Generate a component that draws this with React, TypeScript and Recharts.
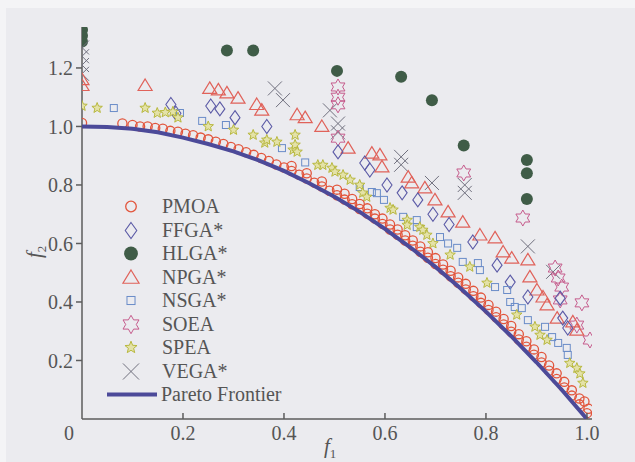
import { ScatterChart, Scatter, XAxis, YAxis } from 'recharts';

// f1 / f2 pairs
const paretoFrontier = [
  [0, 1.0], [0.05, 0.998], [0.1, 0.992], [0.15, 0.98], [0.2, 0.962], [0.25, 0.94], [0.3, 0.915],
  [0.35, 0.884], [0.4, 0.848], [0.45, 0.806], [0.5, 0.76], [0.55, 0.708], [0.6, 0.65],
  [0.65, 0.587], [0.7, 0.52], [0.75, 0.446], [0.8, 0.367], [0.85, 0.283], [0.9, 0.194],
  [0.95, 0.1], [1.0, 0.0],
];

const pmoa = [
  [0, 1.012], [0.08, 1.01], [0.1, 1.005], [0.115, 1.0], [0.13, 1.0], [0.145, 0.995], [0.16, 0.992],
  [0.175, 0.985], [0.19, 0.982], [0.205, 0.975], [0.22, 0.97], [0.235, 0.962], [0.25, 0.956],
  [0.265, 0.948], [0.28, 0.94], [0.295, 0.93], [0.31, 0.922], [0.325, 0.912], [0.34, 0.903],
  [0.355, 0.892], [0.37, 0.882], [0.385, 0.87], [0.4, 0.86], [0.415, 0.848], [0.43, 0.835],
  [0.445, 0.822], [0.46, 0.808], [0.475, 0.795], [0.49, 0.78], [0.505, 0.765], [0.52, 0.75],
  [0.535, 0.734], [0.55, 0.718], [0.565, 0.702], [0.58, 0.685], [0.595, 0.667], [0.61, 0.648],
  [0.625, 0.63], [0.64, 0.61], [0.655, 0.592], [0.67, 0.572], [0.685, 0.551], [0.7, 0.53],
  [0.715, 0.51], [0.73, 0.488], [0.745, 0.466], [0.76, 0.443], [0.775, 0.42], [0.79, 0.397],
  [0.805, 0.373], [0.82, 0.348], [0.835, 0.323], [0.85, 0.298], [0.865, 0.272], [0.88, 0.247],
  [0.895, 0.22], [0.91, 0.193], [0.925, 0.165], [0.94, 0.137], [0.955, 0.108], [0.97, 0.08],
  [0.985, 0.05], [1.0, 0.02], [1.003, 0.035],
  [0.415, 0.865], [0.445, 0.84], [0.475, 0.812], [0.505, 0.784], [0.535, 0.752], [0.565, 0.72],
  [0.595, 0.685], [0.625, 0.648], [0.655, 0.61], [0.685, 0.57], [0.715, 0.528], [0.745, 0.484],
  [0.775, 0.438], [0.805, 0.39], [0.835, 0.342], [0.865, 0.29], [0.895, 0.238], [0.925, 0.183],
  [0.955, 0.127], [0.985, 0.07],
  [0.52, 0.77], [0.55, 0.735], [0.58, 0.7], [0.61, 0.665], [0.64, 0.628], [0.67, 0.59],
  [0.7, 0.55], [0.73, 0.507], [0.76, 0.462], [0.79, 0.415], [0.82, 0.367], [0.85, 0.318],
  [0.88, 0.266], [0.91, 0.212], [0.94, 0.156], [0.97, 0.098], [0.995, 0.06],
];

const ffga = [
  [0.176, 1.075], [0.186, 1.045], [0.255, 1.07], [0.273, 1.06], [0.303, 1.03], [0.366, 1.0],
  [0.507, 0.913], [0.56, 0.875], [0.57, 0.851], [0.604, 0.8], [0.634, 0.773], [0.665, 0.749],
  [0.695, 0.7], [0.727, 0.665], [0.774, 0.605], [0.822, 0.526], [0.848, 0.468], [0.883, 0.417],
  [0.947, 0.413], [0.952, 0.345], [0.962, 0.311],
];

const hlga = [
  [0, 1.33], [0, 1.31], [0, 1.29], [0.287, 1.26], [0.339, 1.26], [0.505, 1.19], [0.632, 1.17],
  [0.693, 1.09], [0.756, 0.935], [0.881, 0.885], [0.881, 0.84], [0.881, 0.752],
];

const npga = [
  [0, 1.16], [0, 1.14], [0.125, 1.14], [0.253, 1.13], [0.27, 1.125], [0.287, 1.115], [0.309, 1.097],
  [0.346, 1.075], [0.356, 1.056], [0.426, 1.04], [0.442, 1.03], [0.475, 1.0], [0.527, 0.926],
  [0.574, 0.909], [0.59, 0.903], [0.594, 0.862], [0.646, 0.827], [0.653, 0.807], [0.679, 0.79],
  [0.699, 0.749], [0.725, 0.708], [0.754, 0.673], [0.788, 0.629], [0.818, 0.619], [0.834, 0.571],
  [0.851, 0.55], [0.883, 0.544], [0.887, 0.486], [0.901, 0.441], [0.913, 0.417], [0.921, 0.39],
  [0.941, 0.345], [0.972, 0.332], [0.98, 0.304],
];

const nsga = [
  [0.063, 1.063], [0.194, 1.046], [0.238, 1.019], [0.285, 1.005], [0.396, 0.926], [0.442, 0.877],
  [0.55, 0.793], [0.574, 0.776], [0.584, 0.772], [0.598, 0.749], [0.636, 0.691], [0.663, 0.68],
  [0.663, 0.656], [0.709, 0.622], [0.725, 0.6], [0.743, 0.585], [0.754, 0.537], [0.784, 0.533],
  [0.788, 0.509], [0.818, 0.451], [0.842, 0.441], [0.848, 0.4], [0.857, 0.383], [0.871, 0.379],
  [0.883, 0.338], [0.917, 0.315], [0.931, 0.28], [0.943, 0.26], [0.96, 0.243], [0.962, 0.219],
];

const soea = [
  [0.507, 1.135], [0.507, 1.1], [0.507, 1.074], [0.507, 0.96], [0.756, 0.841], [0.873, 0.687],
  [0.937, 0.516], [0.943, 0.482], [0.95, 0.451], [0.947, 0.407], [0.99, 0.397], [0.98, 0.321],
  [1.006, 0.27],
];

const spea = [
  [0, 1.07], [0.03, 1.063], [0.125, 1.063], [0.149, 1.046], [0.165, 1.048], [0.18, 1.05],
  [0.19, 1.03], [0.25, 1.0], [0.3, 0.988], [0.339, 0.971], [0.362, 0.944], [0.366, 0.954],
  [0.386, 0.947], [0.418, 0.92], [0.422, 0.937], [0.422, 0.971], [0.426, 0.913], [0.467, 0.868],
  [0.477, 0.868], [0.495, 0.858], [0.501, 0.845], [0.517, 0.834], [0.531, 0.817], [0.55, 0.8],
  [0.556, 0.773], [0.564, 0.759], [0.61, 0.721], [0.616, 0.715], [0.644, 0.68], [0.644, 0.663],
  [0.669, 0.656], [0.675, 0.646], [0.683, 0.629], [0.695, 0.6], [0.729, 0.561], [0.768, 0.52],
  [0.802, 0.465], [0.861, 0.356], [0.897, 0.315], [0.907, 0.287], [0.921, 0.27], [0.966, 0.191],
  [0.98, 0.174], [0.986, 0.155], [0.992, 0.123],
];

const vega = [
  [0, 1.27], [0, 1.24], [0, 1.21], [0, 1.18], [0.382, 1.13], [0.398, 1.09], [0.491, 1.055],
  [0.507, 1.01], [0.507, 0.98], [0.632, 0.896], [0.632, 0.869], [0.693, 0.807], [0.758, 0.8],
  [0.758, 0.773], [0.883, 0.59], [0.933, 0.503],
];

const xTicks = [0, 0.2, 0.4, 0.6, 0.8, 1.0];
const yTicks = [0.2, 0.4, 0.6, 0.8, 1.0, 1.2];

const legendNames = ['PMOA', 'FFGA*', 'HLGA*', 'NPGA*', 'NSGA*', 'SOEA', 'SPEA', 'VEGA*', 'Pareto Frontier'];

const colors: Record<string, string> = {
  PMOA: '#e2553c',
  'FFGA*': '#5b5aa6',
  'HLGA*': '#3f5c47',
  'NPGA*': '#e0625a',
  'NSGA*': '#6a8cc8',
  SOEA: '#c65b8c',
  SPEA: '#b8b83e',
  'VEGA*': '#70707e',
  'Pareto Frontier': '#4c4a99',
};

const FONT = '"Liberation Serif", "Times New Roman", serif';
const TEXT = '#555';
const AXIS = '#5c5c5c';

const toPts = (arr: number[][]) => arr.map(([x, y]) => ({ x, y }));

const starPoints = (cx: number, cy: number, n: number, R: number, r: number) => {
  const pts: string[] = [];
  for (let k = 0; k < n * 2; k++) {
    const a = ((-90 + (180 / n) * k) * Math.PI) / 180;
    const rad = k % 2 === 0 ? R : r;
    pts.push(`${(cx + rad * Math.cos(a)).toFixed(2)},${(cy + rad * Math.sin(a)).toFixed(2)}`);
  }
  return pts.join(' ');
};

const marker = (name: string, cx: number, cy: number, s = 1) => {
  const c = colors[name];
  switch (name) {
    case 'PMOA':
      return <circle cx={cx} cy={cy} r={4.6 * s} fill="none" stroke={c} strokeWidth={1.3} />;
    case 'FFGA*':
      return (
        <polygon
          points={`${cx},${cy - 7 * s} ${cx + 5 * s},${cy} ${cx},${cy + 7 * s} ${cx - 5 * s},${cy}`}
          fill="none" stroke={c} strokeWidth={1.1}
        />
      );
    case 'HLGA*':
      return <circle cx={cx} cy={cy} r={6 * s} fill={c} />;
    case 'NPGA*':
      return (
        <polygon
          points={`${cx},${cy - 6.5 * s} ${cx + 7 * s},${cy + 5 * s} ${cx - 7 * s},${cy + 5 * s}`}
          fill="none" stroke={c} strokeWidth={1.2}
        />
      );
    case 'NSGA*':
      return <rect x={cx - 3.5 * s} y={cy - 3.5 * s} width={7 * s} height={7 * s} fill="none" stroke={c} strokeWidth={1} />;
    case 'SOEA':
      return <polygon points={starPoints(cx, cy, 6, 8 * s, 4.6 * s)} fill="none" stroke={c} strokeWidth={1} />;
    case 'SPEA':
      return <polygon points={starPoints(cx, cy, 5, 5.5 * s, 2.4 * s)} fill="#e4e2a8" stroke={c} strokeWidth={1} />;
    case 'VEGA*':
      return (
        <g stroke={c} strokeWidth={1}>
          <line x1={cx - 7 * s} y1={cy - 7 * s} x2={cx + 7 * s} y2={cy + 7 * s} />
          <line x1={cx - 7 * s} y1={cy + 7 * s} x2={cx + 7 * s} y2={cy - 7 * s} />
        </g>
      );
    default:
      return <g />;
  }
};

const series: [string, number[][]][] = [
  ['HLGA*', hlga],
  ['VEGA*', vega],
  ['SOEA', soea],
  ['NPGA*', npga],
  ['FFGA*', ffga],
  ['NSGA*', nsga],
  ['SPEA', spea],
  ['PMOA', pmoa],
];

const XTick = (props: any) => {
  const { x, y, payload } = props;
  const v = payload.value as number;
  if (v === 0) {
    return (
      <text x={x - 13} y={y + 21} textAnchor="middle" fill={TEXT} fontSize={20} fontFamily={FONT}>0</text>
    );
  }
  return (
    <g>
      <line x1={x} x2={x} y1={y - 6} y2={y} stroke={AXIS} strokeWidth={1.5} />
      <text x={x} y={y + 21} textAnchor="middle" fill={TEXT} fontSize={20} fontFamily={FONT}>
        {v.toFixed(1)}
      </text>
    </g>
  );
};

const Legendbox = () => (
  <div style={{ position: 'absolute', left: 104, top: 195, fontFamily: FONT, fontSize: 20, color: TEXT }}>
    {legendNames.map((name) => (
      <div key={name} style={{ display: 'flex', alignItems: 'center', height: 23.5 }}>
        <svg width={56} height={23} style={{ flex: 'none' }}>
          {name === 'Pareto Frontier' ? (
            <line x1={3} x2={53} y1={11.5} y2={11.5} stroke={colors[name]} strokeWidth={4} />
          ) : (
            marker(name, 27, 11.5, 1.15)
          )}
        </svg>
        <span style={{ marginLeft: name === 'Pareto Frontier' ? 1 : 2, lineHeight: '23px', whiteSpace: 'nowrap' }}>{name}</span>
      </div>
    ))}
  </div>
);

export default function App() {
  return (
    <div
      style={{
        position: 'fixed', left: 0, top: 0, width: 635, height: 462,
        background: '#ebebef', overflow: 'hidden',
      }}
    >
      <div style={{ position: 'absolute', left: 0, top: 0, width: 635, height: 8, background: '#f4f4f6' }} />
      <div style={{ position: 'absolute', left: 0, top: 0, width: 6, height: 462, background: '#f4f4f6' }} />
      <ScatterChart
        width={635}
        height={462}
        margin={{ top: 27, right: 43, bottom: 13, left: 22 }}
        style={{ position: 'absolute', left: 0, top: 0, fontFamily: FONT }}
      >
        <XAxis
          type="number"
          dataKey="x"
          domain={[0, 1.01]}
          ticks={xTicks}
          height={30}
          tickSize={0}
          tickMargin={0}
          tickLine={false}
          tick={<XTick />}
          axisLine={{ stroke: AXIS, strokeWidth: 1.5 }}
          allowDataOverflow
        />
        <YAxis
          type="number"
          dataKey="y"
          domain={[0, 1.34]}
          ticks={yTicks}
          width={60}
          tickSize={6}
          tickMargin={3}
          tickFormatter={(v: number) => v.toFixed(1)}
          tick={{ fill: TEXT, fontSize: 20, fontFamily: FONT }}
          tickLine={{ stroke: AXIS, strokeWidth: 1.5 }}
          axisLine={{ stroke: AXIS, strokeWidth: 1.5 }}
          allowDataOverflow
        />
        {series.map(([name, arr]) => (
          <Scatter
            key={name}
            name={name}
            data={toPts(arr)}
            isAnimationActive={false}
            shape={(p: any) => marker(name, p.cx, p.cy)}
          />
        ))}
        <Scatter
          name="Pareto Frontier"
          data={toPts(paretoFrontier)}
          isAnimationActive={false}
          line={{ stroke: colors['Pareto Frontier'], strokeWidth: 4 }}
          lineType="joint"
          shape={() => <g />}
        />
      </ScatterChart>
      <Legendbox />
      <div
        style={{
          position: 'absolute', left: 22, top: 234, width: 24, height: 24,
          transform: 'rotate(-90deg)', fontFamily: FONT, fontSize: 21, color: TEXT,
          fontStyle: 'italic', lineHeight: '24px', whiteSpace: 'nowrap',
        }}
      >
        f<sub style={{ fontSize: 13, fontStyle: 'normal' }}>2</sub>
      </div>
      <div
        style={{
          position: 'absolute', left: 324, top: 434, fontFamily: FONT, fontSize: 21, color: TEXT,
          fontStyle: 'italic', lineHeight: '24px', whiteSpace: 'nowrap',
        }}
      >
        f<sub style={{ fontSize: 13, fontStyle: 'normal' }}>1</sub>
      </div>
    </div>
  );
}
